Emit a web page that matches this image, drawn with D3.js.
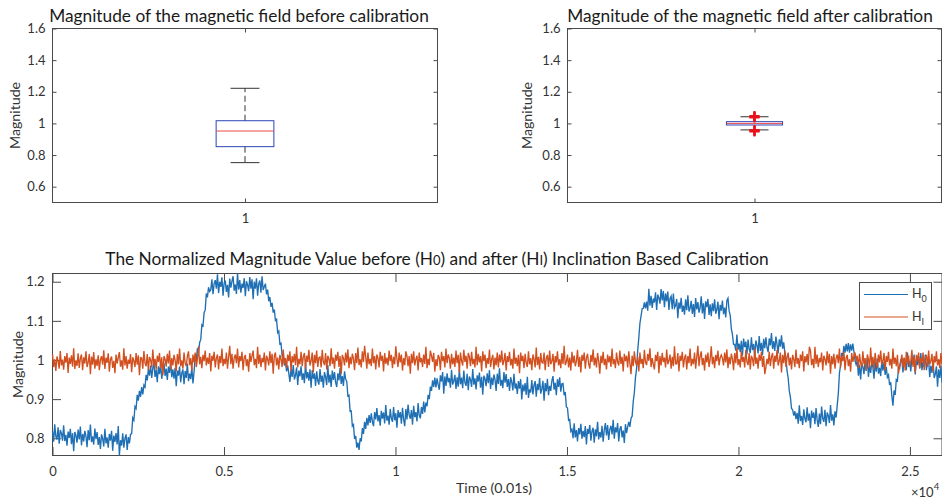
<!DOCTYPE html>
<html><head><meta charset="utf-8">
<script src="https://cdn.jsdelivr.net/npm/d3@7"></script>
<style>body{margin:0;background:#fff}svg{display:block}text{font-family:Lato,"Noto Sans",sans-serif}</style>
</head><body><svg id="c" width="942" height="503"></svg>
<script>
// ---------- data ----------
const boxCategories = ["1"];
// [lower whisker, Q1, median, Q3, upper whisker]
const beforeStats = [0.752, 0.853, 0.952, 1.017, 1.222];
const afterStats = [0.959, 0.990, 1.000, 1.011, 1.042];
const beforeOutliers = [];
const afterOutliers = [1.038, 1.041, 1.044, 1.047, 0.949, 0.952, 0.955, 0.958];
const boxYTicks = [0.6, 0.8, 1, 1.2, 1.4, 1.6];
const timeXTicks = [0, 5000, 10000, 15000, 20000, 25000];
const timeYTicks = [0.8, 0.9, 1, 1.1, 1.2];
const seriesNames = ["0", "I"];
const sampleStep = 32.5; // samples (0.01 s) between stored points
const h0Values = [
0.818,0.791,0.836,0.805,0.797,0.828,0.786,0.821,0.813,0.794,
0.833,0.793,0.809,0.781,0.817,0.801,0.824,0.785,0.813,0.767,0.816,0.808,0.789,0.822,0.797,0.830,0.782,0.811,0.792,0.819,0.806,0.777,0.821,0.795,0.835,0.790,0.805,0.784,0.825,0.798,
0.816,0.783,0.803,0.773,0.810,0.799,0.779,0.824,0.787,0.802,0.776,0.811,0.794,0.819,0.768,0.807,0.791,0.813,0.784,0.831,
0.756,0.795,0.781,0.813,0.776,0.800,0.810,0.770,0.803,0.787,
0.810,0.812,0.852,0.846,0.881,0.876,0.911,0.896,0.921,0.906,0.931,0.912,0.936,0.931,0.962,0.948,0.977,0.960,0.986,
0.954,0.980,0.992,0.957,0.975,0.943,0.984,0.964,0.989,0.952,0.972,0.992,0.959,0.978,0.949,0.983,0.967,0.994,0.956,0.976,
0.952,0.980,0.933,0.973,0.960,0.983,0.943,0.967,0.976,0.938,0.972,0.954,0.991,0.946,0.965,0.951,0.981,0.940,0.970,
1.006,1.000,1.030,1.018,1.045,1.052,1.090,1.087,1.121,1.128,1.170,1.160,1.186,1.175,
1.179,1.206,1.168,1.195,1.204,1.182,1.219,1.171,1.200,1.187,1.211,1.164,1.196,1.203,1.174,1.192,1.160,1.208,1.185,1.201,
1.214,1.177,1.193,1.169,1.221,1.180,1.204,1.172,1.195,1.184,1.209,1.163,1.201,1.192,1.176,1.212,1.182,1.206,1.155,1.200,
1.182,1.209,1.164,1.195,1.203,1.172,1.214,1.179,1.187,
1.195,1.168,1.180,1.150,1.161,1.136,1.146,1.121,1.129,1.101,1.104,1.070,1.074,1.041,1.043,1.011,1.016,0.986,0.996,0.971,0.986,0.966,
0.944,0.977,0.957,0.987,0.950,0.961,0.981,0.936,0.973,0.958,0.984,0.949,0.966,0.941,0.992,0.953,0.969,0.947,0.976,0.929,
0.974,0.952,0.966,0.934,0.971,0.947,0.937,0.977,0.944,0.960,0.929,0.969,0.957,0.936,0.987,0.942,0.963,0.931,0.973,0.949,
0.969,0.943,0.931,0.966,0.948,0.980,0.939,0.959,0.934,0.971,0.951,
0.945,0.908,0.910,0.869,0.870,0.831,0.835,0.798,0.806,0.776,0.789,0.770,0.800,0.792,0.826,0.811,0.842,0.824,0.852,0.833,0.859,0.839,0.864,0.842,
0.831,0.867,0.848,0.877,0.843,0.859,0.832,0.870,0.850,0.866,0.838,0.885,0.845,0.858,0.835,0.875,0.851,0.842,0.880,0.846,0.864,0.827,0.872,0.853,0.867,0.837,0.878,0.848,0.831,
0.875,0.848,0.886,0.859,0.850,0.872,0.835,0.883,0.854,0.867,0.843,0.890,0.858,0.851,0.880,0.862,0.894,
0.866,0.891,0.882,0.911,0.900,0.932,0.921,0.948,0.931,0.955,
0.930,0.953,0.937,0.924,0.961,0.945,0.969,0.914,0.958,0.934,0.966,0.943,0.954,0.929,0.975,0.937,0.946,0.962,0.926,0.956,0.932,0.976,0.938,
0.955,0.928,0.973,0.942,0.934,0.965,0.923,0.958,0.950,0.931,0.977,0.937,0.953,0.925,0.961,0.945,0.968,0.929,0.957,0.911,
0.960,0.952,0.933,0.966,0.941,0.974,0.926,0.955,0.936,0.963,0.950,0.921,0.965,0.939,0.979,0.934,0.949,0.928,0.969,0.942,
0.964,0.931,0.951,0.921,
0.956,0.944,0.922,0.965,0.927,0.940,0.913,0.946,0.927,0.951,0.899,0.937,0.920,0.941,0.911,0.957,0.903,0.925,
0.917,0.949,0.912,0.936,0.946,0.906,0.939,0.923,0.954,0.914,0.926,0.947,0.896,0.941,0.920,0.952,0.910,0.934,
0.921,0.947,0.959,0.924,0.942,0.910,0.951,0.931,0.956,0.919,0.939,
0.940,0.910,0.918,0.880,0.878,0.846,0.848,0.818,0.823,0.800,
0.838,0.802,0.821,0.792,0.826,0.810,0.837,0.799,0.819,0.803,0.831,0.784,0.824,0.811,0.834,0.794,0.818,0.827,0.789,0.823,0.805,0.842,0.797,0.816,0.802,0.832,0.791,0.821,0.839,
0.807,0.834,0.796,0.823,0.832,0.810,0.847,0.799,0.828,0.815,0.839,0.792,0.824,0.831,0.802,0.820,0.788,0.836,0.813,0.829,0.842,
0.829,0.851,0.856,0.894,0.917,0.955,0.978,1.024,1.057,1.094,1.112,1.131,1.132,1.147,
1.132,1.149,1.126,1.182,1.139,1.164,1.133,1.157,1.147,1.173,1.128,1.167,1.159,1.144,1.181,1.152,1.176,1.135,1.170,
1.150,1.175,1.128,1.157,1.163,1.130,1.170,1.133,1.139,1.156,
1.107,1.147,1.131,1.159,1.123,1.139,1.116,1.155,1.127,1.165,1.124,1.132,1.151,1.118,1.143,1.110,1.158,1.129,1.148,1.121,
1.134,1.163,1.119,1.145,1.105,1.150,1.135,1.156,1.115,1.142,
1.112,1.145,1.125,1.155,1.118,1.129,1.149,1.104,1.141,1.126,1.152,1.117,1.134,1.109,
1.152,1.158,1.126,1.114,1.080,1.065,1.040,1.040,1.024,
1.065,1.026,1.042,1.020,1.049,1.011,1.055,1.033,1.047,1.015,1.052,1.028,1.018,1.058,1.025,1.041,1.010,1.050,1.038,1.017,1.061,1.023,1.044,1.012,1.054,1.030,
1.058,1.032,1.020,1.055,1.037,1.069,1.028,1.048,1.023,1.060,1.040,1.017,1.053,1.034,1.063,1.029,1.045,1.018,
1.006,0.972,0.954,0.921,0.905,0.876,0.873,0.858,
0.869,0.849,0.865,0.837,0.884,0.844,0.857,0.834,0.874,0.850,0.841,0.879,0.845,0.863,0.826,0.871,0.852,0.866,0.836,0.877,0.847,0.829,
0.863,0.836,0.881,0.850,0.842,0.873,0.831,0.866,0.858,0.839,0.885,0.845,0.861,0.833,0.869,0.853,
0.884,0.915,0.967,0.986,1.018,1.010,1.036,1.019,1.041,1.022,1.043,1.019,1.040,1.024,1.042,1.021,
0.998,0.988,
0.999,0.960,0.988,0.950,0.991,0.983,0.964,0.997,0.972,1.005,0.957,0.986,0.967,0.994,0.981,0.952,0.996,0.970,1.004,0.965,0.980,0.959,1.000,0.973,
0.995,0.962,
0.982,0.956,0.962,0.936,0.943,0.909,0.883,0.922,0.911,0.950,0.947,0.980,0.978,1.000,
0.998,0.968,1.005,0.994,0.974,1.019,0.982,0.997,0.971,1.006,0.989,1.014,0.963,1.002,
0.987,1.009,0.980,1.018,0.974,0.996,0.982,1.014,
0.974,0.993,1.000,0.956,0.986,0.967,0.996,0.954,0.964,0.984,0.932,0.976,0.954,0.985,0.942
];
const h1Values = [
1.015,0.982,1.002,0.972,1.009,0.998,0.978,1.023,0.986,1.001,0.975,1.010,0.993,1.018,0.967,1.006,0.990,1.012,0.983,1.030,0.977,0.999,0.985,1.017,0.980,1.004,1.014,0.974,1.007,0.991,1.022,0.982,0.994,1.015,0.964,1.009,0.988,1.020,0.978,1.002,
0.985,1.012,0.974,1.001,1.010,0.988,1.025,0.977,1.006,0.993,1.017,0.970,1.002,1.009,0.980,0.998,0.966,1.014,0.991,1.007,1.020,0.983,0.999,0.975,1.030,0.986,1.010,0.978,1.001,0.990,1.015,0.969,1.007,0.998,0.982,1.018,0.988,1.012,0.961,1.006,
1.005,0.978,1.023,0.992,0.984,1.015,0.973,1.008,1.000,0.981,1.027,0.987,1.003,0.975,1.011,0.995,1.018,0.979,1.007,0.961,1.010,1.002,0.983,1.016,0.991,1.024,0.976,1.005,0.986,1.013,1.000,0.971,1.015,0.989,1.029,0.984,0.999,0.978,1.019,0.992,
0.984,1.010,1.022,0.987,1.005,0.973,1.014,0.994,1.019,0.982,1.002,1.035,0.989,1.008,0.979,1.013,0.997,1.024,0.986,1.006,0.990,1.018,0.971,1.011,0.998,1.021,0.981,1.005,1.014,0.976,1.010,0.992,1.029,0.984,1.003,0.989,1.019,0.978,1.008,1.036,
0.989,1.016,0.978,1.005,1.014,0.992,1.029,0.981,1.010,0.997,1.021,0.974,1.006,1.013,0.984,1.002,0.970,1.018,0.995,1.011,1.024,0.987,1.003,0.979,1.034,0.990,1.014,0.982,1.005,0.994,1.019,0.973,1.011,1.002,0.986,1.022,0.992,1.016,0.965,1.010,
1.019,0.986,1.006,0.976,1.013,1.002,0.982,1.027,0.990,1.005,0.979,1.014,0.997,1.022,0.971,1.010,0.994,1.016,0.987,1.034,0.981,1.003,0.989,1.021,0.984,1.008,1.018,0.978,1.011,0.995,1.026,0.986,0.998,1.019,0.968,1.013,0.992,1.024,0.982,1.006,
1.008,0.981,1.026,0.995,0.987,1.018,0.976,1.011,1.003,0.984,1.030,0.990,1.006,0.978,1.014,0.998,1.021,0.982,1.010,0.964,1.013,1.005,0.986,1.019,0.994,1.027,0.979,1.008,0.989,1.016,1.003,0.974,1.018,0.992,1.032,0.987,1.002,0.981,1.022,0.995,
1.036,1.008,0.978,1.019,0.989,1.003,0.984,1.029,0.992,1.010,0.976,1.014,1.005,0.981,1.021,0.998,1.011,0.971,1.018,0.990,1.006,0.986,1.024,0.997,1.013,0.979,1.008,0.989,1.035,1.002,0.982,1.019,0.994,1.014,0.973,1.005,0.987,1.022,1.010,0.984,
1.010,0.965,1.016,0.992,1.022,0.986,1.002,1.011,0.973,1.019,0.994,1.005,0.982,1.014,0.990,1.034,0.979,1.003,0.987,1.024,1.011,0.995,1.018,0.970,1.002,0.984,1.013,1.006,0.974,1.021,0.997,1.010,0.981,1.029,0.992,1.014,1.005,0.978,1.016,0.989,
1.006,0.982,1.024,0.992,1.013,0.968,1.019,0.998,0.986,1.026,0.995,1.011,0.978,1.018,1.008,0.984,1.021,0.989,1.003,0.981,1.034,0.987,1.016,0.994,1.010,0.971,1.022,0.997,1.014,0.979,1.005,0.990,1.027,0.982,1.002,1.013,0.976,1.006,0.986,1.019,
0.981,1.014,0.994,1.024,0.987,0.998,1.018,0.973,1.010,0.995,1.021,0.986,1.003,0.978,1.029,0.990,1.006,0.984,1.013,0.966,1.019,0.997,1.011,0.979,1.016,0.992,0.982,1.022,0.989,1.005,0.974,1.014,1.002,0.981,1.032,0.987,1.008,0.976,1.018,0.994,
0.992,1.019,0.974,1.005,1.013,0.982,1.024,0.989,0.997,1.016,0.970,1.010,0.994,1.022,0.986,1.002,0.979,1.018,0.990,1.036,0.987,0.995,1.014,0.981,1.006,0.973,1.021,0.992,1.011,0.984,0.997,1.026,0.982,1.008,0.968,1.013,0.998,1.019,0.978,1.005,
1.016,0.990,0.978,1.013,0.995,1.027,0.986,1.006,0.981,1.018,0.998,0.965,1.011,0.992,1.021,0.987,1.003,0.976,1.014,0.994,1.010,0.982,1.029,0.989,1.002,0.979,1.019,0.995,0.986,1.024,0.990,1.008,0.971,1.016,0.997,1.011,0.981,1.022,0.992,0.964,
1.011,0.984,1.022,0.995,0.986,1.008,0.971,1.019,0.990,1.003,0.979,1.026,0.994,0.987,1.016,0.998,1.030,0.982,1.005,0.989,0.976,1.013,0.997,1.021,0.966,1.010,0.986,1.018,0.995,1.006,0.981,1.027,0.989,0.998,1.014,0.978,1.008,0.984,1.035,0.990,
0.990,1.018,0.971,1.011,0.998,1.021,0.981,1.005,1.014,0.976,1.010,0.992,1.029,0.984,1.003,0.989,1.019,0.978,1.008,1.036,0.984,1.010,1.022,0.987,1.005,0.973,1.014,0.994,1.019,0.982,1.002,1.035,0.989,1.008,0.979,1.013,0.997,1.024,0.986,1.006,
1.013,1.005,0.986,1.019,0.994,1.027,0.979,1.008,0.989,1.016,1.003,0.974,1.018,0.992,1.032,0.987,1.002,0.981,1.022,0.995,1.008,0.981,1.026,0.995,0.987,1.018,0.976,1.011,1.003,0.984,1.030,0.990,1.006,0.978,1.014,0.998,1.021,0.982,1.010,0.964,
0.981,1.003,0.989,1.021,0.984,1.008,1.018,0.978,1.011,0.995,1.026,0.986,0.998,1.019,0.968,1.013,0.992,1.024,0.982,1.006,1.019,0.986,1.006,0.976,1.013,1.002,0.982,1.027,0.990,1.005,0.979,1.014,0.997,1.022,0.971,1.010,0.994,1.016,0.987,1.034,
1.024,0.987,1.003,0.979,1.034,0.990,1.014,0.982,1.005,0.994,1.019,0.973,1.011,1.002,0.986,1.022,0.992,1.016,0.965,1.010,0.989,1.016,0.978,1.005,1.014,0.992,1.029,0.981,1.010,0.997,1.021,0.974,1.006,1.013,0.984,1.002,0.970,1.018,0.995,1.011,
1.019,0.997,1.011,0.979,1.016,0.992,0.982,1.022,0.989,1.005,0.974,1.014,1.002,0.981,1.032,0.987,1.008,0.976,1.018,0.994,0.981,1.014,0.994,1.024,0.987,0.998,1.018,0.973,1.010,0.995,1.021,0.986,1.003,0.978,1.029,0.990,1.006,0.984,1.013,0.966,
0.987,0.995,1.014,0.981,1.006,0.973,1.021,0.992,1.011,0.984,0.997,1.026,0.982,1.008,0.968,1.013,0.998,1.019,0.978,1.005,0.992,1.019,0.974,1.005,1.013,0.982,1.024,0.989,0.997,1.016,0.970,1.010,0.994,1.022,0.986,1.002,0.979,1.018,0.990
];

// ---------- drawing ----------
const svg = d3.select("#c");
const AXIS = "#4a4a4a", TXT = "#333";
const fmt = d3.format("~g");

function styleAxis(g, fs) {
  g.select(".domain").remove();
  g.selectAll(".tick line").attr("stroke", AXIS);
  g.selectAll(".tick text").attr("fill", TXT).attr("font-size", fs).attr("font-family", "Lato");
  g.attr("font-family", null);
}

function boxPanel(x0, x1, stats, outliers, title, titleX, ylabelX) {
  const y0 = 28.5, y1 = 202.5;
  const x = d3.scalePoint().domain(boxCategories).range([x0, x1]).padding(0.5);
  const xl = d3.scaleLinear().domain([0.5, 1.5]).range([x0, x1]);
  const y = d3.scaleLinear().domain([0.5, 1.6]).range([y1, y0]);
  const g = svg.append("g");
  g.append("rect").attr("x", x0).attr("y", y0).attr("width", x1 - x0).attr("height", y1 - y0)
    .attr("fill", "none").attr("stroke", AXIS);
  const tl = 4;
  g.append("g").attr("transform", `translate(${x0},0)`)
    .call(d3.axisLeft(y).tickValues(boxYTicks).tickSize(-tl).tickPadding(7).tickFormat(fmt))
    .call(s => styleAxis(s, 13));
  g.append("g").attr("transform", `translate(${x1},0)`)
    .call(d3.axisRight(y).tickValues(boxYTicks).tickSize(-tl).tickFormat(""))
    .call(s => styleAxis(s, 13));
  g.append("g").attr("transform", `translate(0,${y1})`)
    .call(d3.axisBottom(x).tickSize(-tl).tickPadding(11))
    .call(s => styleAxis(s, 13));
  g.append("g").attr("transform", `translate(0,${y0})`)
    .call(d3.axisTop(x).tickSize(-tl).tickFormat(""))
    .call(s => styleAxis(s, 13));

  const cx = x(boxCategories[0]);
  const hw = xl(1.075) - xl(1);
  const [wl, q1, med, q3, wh] = stats;
  // whiskers
  g.append("line").attr("x1", cx).attr("x2", cx).attr("y1", y(q3)).attr("y2", y(wh))
    .attr("stroke", "#333").attr("stroke-dasharray", "6,3.5");
  g.append("line").attr("x1", cx).attr("x2", cx).attr("y1", y(q1)).attr("y2", y(wl))
    .attr("stroke", "#333").attr("stroke-dasharray", "6,3.5");
  [wl, wh].forEach(v => g.append("line").attr("x1", cx - hw / 2).attr("x2", cx + hw / 2)
    .attr("y1", y(v)).attr("y2", y(v)).attr("stroke", "#333"));
  // box
  g.append("rect").attr("x", cx - hw).attr("y", y(q3)).attr("width", 2 * hw).attr("height", y(q1) - y(q3))
    .attr("fill", "none").attr("stroke", "#2b45b5");
  g.append("line").attr("x1", cx - hw).attr("x2", cx + hw).attr("y1", y(med)).attr("y2", y(med))
    .attr("stroke", "#ee4848");
  // outliers
  g.selectAll("path.out").data(outliers).join("path").attr("class", "out")
    .attr("d", v => `M${cx - 5},${y(v)}H${cx + 5}M${cx},${y(v) - 5}V${y(v) + 5}`)
    .attr("stroke", "#e8121b").attr("stroke-width", 2);
  // title and label
  g.append("text").attr("x", titleX).attr("y", 22).attr("text-anchor", "middle")
    .attr("font-size", 17.3).attr("fill", "#1a1a1a").text(title);
  g.append("text").attr("transform", `translate(${ylabelX},${(y0 + y1) / 2}) rotate(-90)`)
    .attr("text-anchor", "middle").attr("font-size", 14.2).attr("fill", TXT).text("Magnitude");
}

boxPanel(52.5, 437.5, beforeStats, beforeOutliers, "Magnitude of the magnetic field before calibration", 239, 19.5);
boxPanel(567.5, 941.5, afterStats, afterOutliers, "Magnitude of the magnetic field after calibration", 750, 532);

// ---------- time series ----------
(function () {
  const x0 = 52.5, x1 = 942, y0 = 273.5, y1 = 455.5;
  const n = h0Values.length;
  const x = d3.scaleLinear().domain([0, (n - 1) * sampleStep]).range([x0, x1]);
  const y = d3.scaleLinear().domain(d3.extent(h0Values.concat(h1Values))).range([y1, y0]);
  const g = svg.append("g");
  g.append("rect").attr("x", x0).attr("y", y0).attr("width", x1 - x0).attr("height", y1 - y0)
    .attr("fill", "none").attr("stroke", AXIS);
  const tl = 8.5;
  g.append("g").attr("transform", `translate(${x0},0)`)
    .call(d3.axisLeft(y).tickValues(timeYTicks).tickSize(-tl).tickPadding(8).tickFormat(fmt))
    .call(s => styleAxis(s, 13));
  g.append("g").attr("transform", `translate(${x1},0)`)
    .call(d3.axisRight(y).tickValues(timeYTicks).tickSize(-tl).tickFormat(""))
    .call(s => styleAxis(s, 13));
  g.append("g").attr("transform", `translate(0,${y1})`)
    .call(d3.axisBottom(x).tickValues(timeXTicks).tickSize(-tl).tickPadding(11).tickFormat(d => fmt(d / 1e4)))
    .call(s => styleAxis(s, 13));
  g.append("g").attr("transform", `translate(0,${y0})`)
    .call(d3.axisTop(x).tickValues(timeXTicks).tickSize(-tl).tickFormat(""))
    .call(s => styleAxis(s, 13));

  const line = d3.line().x((d, i) => x(i * sampleStep)).y(d => y(d));
  g.append("path").datum(h0Values).attr("d", line).attr("fill", "none").attr("stroke", "#1f6fb4").attr("stroke-width", 1.35);
  g.append("path").datum(h1Values).attr("d", line).attr("fill", "none").attr("stroke", "#d2501f").attr("stroke-width", 1.35);

  // title
  const t = g.append("text").attr("x", 437).attr("y", 265).attr("text-anchor", "middle")
    .attr("font-size", 17.3).attr("fill", "#1a1a1a");
  t.append("tspan").text("The Normalized Magnitude Value before (H");
  t.append("tspan").attr("font-size", 13).text(seriesNames[0]);
  t.append("tspan").text(") and after (H");
  t.append("tspan").attr("font-size", 13).text(seriesNames[1]);
  t.append("tspan").text(") Inclination Based Calibration");
  // labels
  g.append("text").attr("x", 494).attr("y", 493).attr("text-anchor", "middle")
    .attr("font-size", 14.2).attr("fill", TXT).text("Time (0.01s)");
  g.append("text").attr("transform", `translate(22.5,${(y0 + y1) / 2}) rotate(-90)`)
    .attr("text-anchor", "middle").attr("font-size", 14.2).attr("fill", TXT).text("Magnitude");
  const e = g.append("text").attr("x", 911).attr("y", 497).attr("font-size", 13).attr("fill", TXT);
  e.append("tspan").text("×10");
  e.append("tspan").attr("font-size", 9.5).attr("dy", -7).text("4");

  // legend
  const lg = g.append("g");
  lg.append("rect").attr("x", 859.5).attr("y", 282.5).attr("width", 72).attr("height", 47)
    .attr("fill", "#fff").attr("stroke", AXIS);
  const colors = ["#1f6fb4", "#d2501f"];
  seriesNames.forEach((s, i) => {
    const ly = 294.5 + i * 22.5;
    lg.append("line").attr("x1", 864).attr("x2", 908).attr("y1", ly).attr("y2", ly)
      .attr("stroke", colors[i]).attr("stroke-width", 1);
    const tx = lg.append("text").attr("x", 912).attr("y", ly + 3.5).attr("font-size", 12.5).attr("fill", TXT);
    tx.append("tspan").text("H");
    tx.append("tspan").attr("font-size", 9).attr("dy", 4).text(s);
  });
})();
</script></body></html>
